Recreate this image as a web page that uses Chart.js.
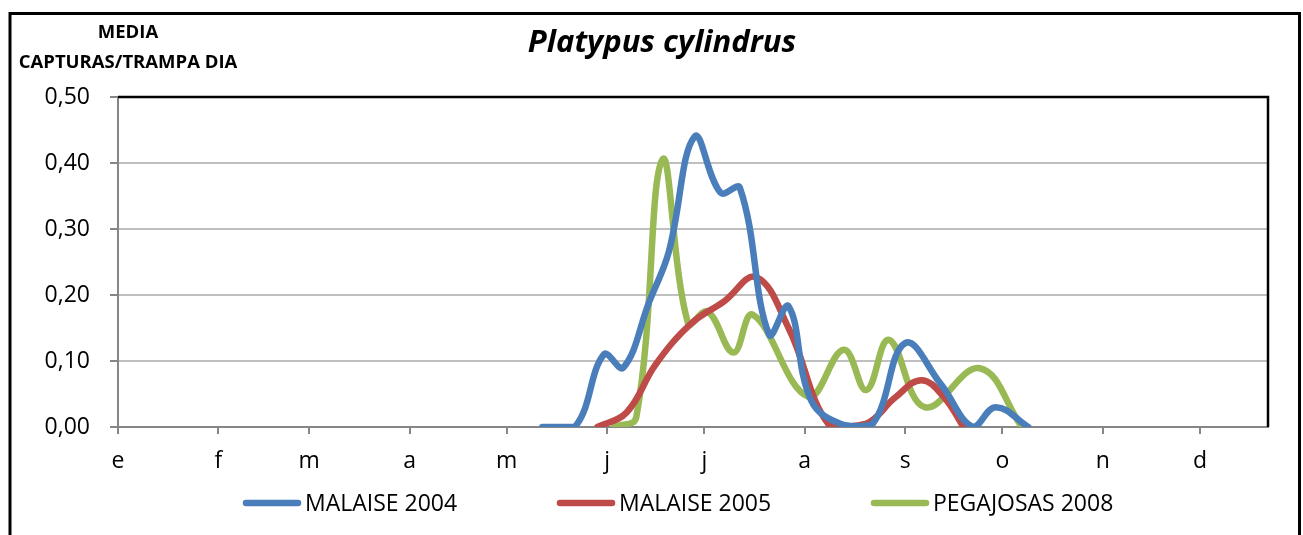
<!DOCTYPE html>
<html>
<head>
<meta charset="utf-8">
<script src="https://cdn.jsdelivr.net/npm/chart.js@4.4.1/dist/chart.umd.min.js"></script>
<style>
    html, body { margin: 0; padding: 0; background: #fff; }
    #wrap { width: 1303px; height: 535px; position: relative; }
</style>
</head>
<body>
<div id="wrap"><canvas id="chart"></canvas></div>
<script>
// x values are day of year (0 = 1 Jan), months start at these days
const monthLabels = ['e', 'f', 'm', 'a', 'm', 'j', 'j', 'a', 's', 'o', 'n', 'd'];
const monthStarts = [0, 31, 59, 90, 120, 151, 181, 212, 243, 273, 304, 334];

const days2004 = [131, 141, 150, 156, 164, 170, 178, 186, 192, 201, 207, 214, 224, 233, 243, 254, 264, 271, 281];
const values2004 = [0, 0, 0.11, 0.09, 0.19, 0.265, 0.44, 0.355, 0.362, 0.14, 0.183, 0.04, 0.003, 0.005, 0.127, 0.065, 0, 0.03, 0];

const days2005 = [148, 157, 166, 177, 187, 197, 207, 220, 231, 240, 248, 255, 261];
const values2005 = [0, 0.022, 0.095, 0.157, 0.19, 0.227, 0.15, 0, 0.005, 0.045, 0.071, 0.045, 0];

const days2008 = [153, 160, 168, 176, 182, 190, 196, 213, 224, 231, 238, 249, 266, 279];
const values2008 = [0, 0.015, 0.405, 0.157, 0.175, 0.113, 0.17, 0.046, 0.117, 0.056, 0.132, 0.03, 0.089, 0];

const FONT = '"Open Sans", "DejaVu Sans", sans-serif';
const AXIS_GREY = '#868686';

function makeSeries(label, days, values, color) {
    return {
        label,
        data: days.map((d, i) => ({ x: d, y: values[i] })),
        borderColor: color,
        backgroundColor: color,
        borderWidth: 6.5,
        borderCapStyle: 'round',
        borderJoinStyle: 'round',
        pointRadius: 0,
        tension: 0.4,
        fill: false,
    };
}

// frame, titles and legend, drawn the way the spreadsheet lays them out
const legendLeft = 243;
const legendColumn = 314;
const framePlugin = {
    id: 'frame',
    afterDraw(chart) {
        const { ctx, chartArea: a } = chart;
        ctx.save();
        ctx.strokeStyle = '#000';
        ctx.lineWidth = 2.5;
        ctx.beginPath();
        ctx.moveTo(a.left, a.top);
        ctx.lineTo(a.right, a.top);
        ctx.lineTo(a.right, a.bottom);
        ctx.stroke();

        ctx.lineWidth = 3;
        ctx.strokeRect(10, 13.5, 1289.5, 600);

        ctx.fillStyle = '#000';
        ctx.textAlign = 'center';
        ctx.textBaseline = 'alphabetic';
        ctx.font = `italic bold 31px ${FONT}`;
        ctx.fillText('Platypus cylindrus', 662, 52);

        ctx.font = `bold 18.5px ${FONT}`;
        ctx.fillText('MEDIA', 128, 38);
        ctx.fillText('CAPTURAS/TRAMPA DIA', 128, 68);

        ctx.font = `23px ${FONT}`;
        ctx.textAlign = 'left';
        chart.data.datasets.forEach((ds, i) => {
            const x0 = legendLeft + i * legendColumn;
            ctx.strokeStyle = ds.borderColor;
            ctx.lineWidth = 6.5;
            ctx.lineCap = 'round';
            ctx.beginPath();
            ctx.moveTo(x0 + 3, 503);
            ctx.lineTo(x0 + 55, 503);
            ctx.stroke();
            ctx.fillText(ds.label, x0 + 62, 511);
        });
        ctx.restore();
    }
};

new Chart(document.getElementById('chart'), {
    type: 'line',
    data: {
        datasets: [
            makeSeries('MALAISE 2004', days2004, values2004, '#4a7ebb'),
            makeSeries('MALAISE 2005', days2005, values2005, '#be4b48'),
            makeSeries('PEGAJOSAS 2008', days2008, values2008, '#98b954'),
        ]
    },
    options: {
        responsive: true,
        maintainAspectRatio: false,
        animation: false,
        layout: { padding: { left: 0, right: 35, top: 97, bottom: 53 } },
        scales: {
            x: {
                type: 'linear',
                min: 0,
                max: 355,
                afterBuildTicks: (s) => { s.ticks = monthStarts.map((v) => ({ value: v })); },
                afterFit: (s) => { s.height = 55; },
                ticks: {
                    callback: (v, i) => monthLabels[i],
                    autoSkip: false,
                    maxRotation: 0,
                    padding: 14,
                    color: '#000',
                    font: { family: FONT, size: 23 },
                },
                grid: { drawOnChartArea: false, tickLength: 7, tickColor: AXIS_GREY, lineWidth: 2 },
                border: { color: AXIS_GREY, width: 2 },
            },
            y: {
                min: 0,
                max: 0.5,
                afterFit: (s) => { s.width = 118; },
                ticks: {
                    stepSize: 0.1,
                    callback: (v) => v.toFixed(2).replace('.', ','),
                    padding: 20,
                    color: '#000',
                    font: { family: FONT, size: 23 },
                },
                grid: { color: '#c0c0c0', lineWidth: 2, tickLength: 8, tickColor: AXIS_GREY },
                border: { color: AXIS_GREY, width: 2 },
            },
        },
        plugins: {
            legend: { display: false },
            tooltip: { enabled: false },
            title: { display: false },
        },
    },
    plugins: [framePlugin],
});
</script>
</body>
</html>
